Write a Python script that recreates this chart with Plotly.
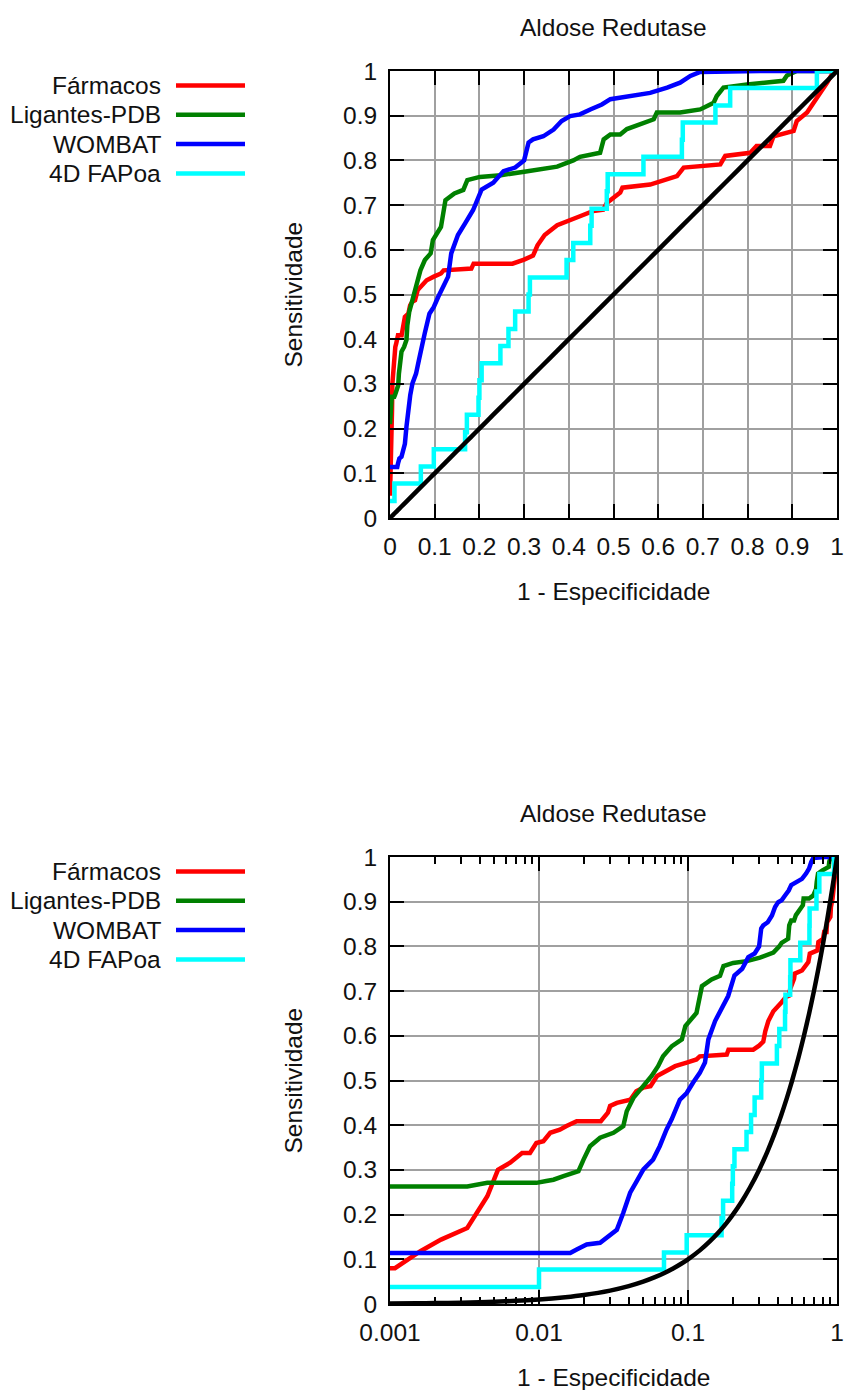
import plotly.graph_objects as go

# ---------------- data ----------------
FARM_X = [0.0, 0.001, 0.00108, 0.0016, 0.0022, 0.0033, 0.0045, 0.0053, 0.0064, 0.0077, 0.0087, 0.0096,
          0.0107, 0.0119, 0.0138, 0.0153, 0.0179, 0.026, 0.029, 0.030, 0.0333, 0.041, 0.045, 0.050,
          0.056, 0.062, 0.072, 0.082, 0.098, 0.114, 0.12, 0.182, 0.187, 0.274, 0.30, 0.32, 0.33,
          0.346, 0.374, 0.41, 0.425, 0.455, 0.477, 0.485, 0.515, 0.52, 0.582, 0.642, 0.657, 0.739,
          0.75, 0.806, 0.82, 0.85, 0.858, 0.903, 0.91, 0.933, 0.948, 0.963, 0.978, 0.993, 1.0]
FARM_Y = [0.05, 0.08, 0.08, 0.118, 0.144, 0.17, 0.241, 0.30, 0.316, 0.338, 0.338, 0.36,
          0.364, 0.383, 0.39, 0.398, 0.409, 0.409, 0.428, 0.443, 0.45, 0.457, 0.476, 0.484,
          0.487, 0.51, 0.521, 0.532, 0.54, 0.547, 0.554, 0.558, 0.569, 0.569, 0.578, 0.587, 0.61,
          0.633, 0.655, 0.668, 0.675, 0.687, 0.69, 0.705, 0.728, 0.739, 0.746, 0.765, 0.784, 0.791,
          0.81, 0.817, 0.832, 0.832, 0.854, 0.866, 0.888, 0.907, 0.929, 0.951, 0.974, 1.0, 1.0]

LIG_X = [0.0, 0.001, 0.0033, 0.0045, 0.0096, 0.0112, 0.0125, 0.0146, 0.0184, 0.0199, 0.022, 0.0257,
         0.0316, 0.0368, 0.0388, 0.043, 0.050, 0.057, 0.063, 0.068, 0.078, 0.091, 0.096, 0.103,
         0.114, 0.124, 0.134, 0.144, 0.164, 0.173, 0.201, 0.248, 0.304, 0.336, 0.374, 0.41, 0.425,
         0.47, 0.478, 0.493, 0.515, 0.53, 0.56, 0.59, 0.597, 0.649, 0.694, 0.724, 0.731, 0.746,
         0.799, 0.88, 0.888, 0.91, 1.0]
LIG_Y = [0.21, 0.263, 0.263, 0.271, 0.271, 0.275, 0.278, 0.286, 0.297, 0.323, 0.353, 0.372,
         0.383, 0.398, 0.431, 0.461, 0.487, 0.51, 0.532, 0.554, 0.577, 0.592, 0.622, 0.633,
         0.651, 0.711, 0.72, 0.726, 0.734, 0.756, 0.763, 0.767, 0.775, 0.78, 0.786, 0.80, 0.808,
         0.817, 0.847, 0.858, 0.858, 0.87, 0.88, 0.892, 0.907, 0.907, 0.914, 0.929, 0.944, 0.963,
         0.97, 0.978, 0.99, 1.0, 1.0]

WOM_X = [0.0, 0.001, 0.0162, 0.0179, 0.0209, 0.0257, 0.0284, 0.0333, 0.0368, 0.0409, 0.0453, 0.0502,
         0.0583, 0.0646, 0.0717, 0.0777, 0.0882, 0.098, 0.108, 0.12, 0.13, 0.137, 0.152, 0.168,
         0.186, 0.205, 0.231, 0.254, 0.28, 0.30, 0.31, 0.32, 0.343, 0.366, 0.384, 0.403, 0.425,
         0.448, 0.474, 0.493, 0.545, 0.582, 0.62, 0.649, 0.672, 0.694, 0.828, 1.0]
WOM_Y = [0.114, 0.114, 0.114, 0.122, 0.133, 0.137, 0.148, 0.166, 0.204, 0.249, 0.275, 0.301,
         0.323, 0.353, 0.39, 0.413, 0.457, 0.472, 0.495, 0.517, 0.54, 0.592, 0.633, 0.659,
         0.689, 0.735, 0.75, 0.776, 0.784, 0.80, 0.84, 0.847, 0.854, 0.869, 0.888, 0.899, 0.903,
         0.914, 0.925, 0.937, 0.944, 0.951, 0.963, 0.974, 0.989, 0.998, 1.0, 1.0]

FAP_X = [0.0, 0.001, 0.01, 0.069, 0.098, 0.168, 0.172, 0.198, 0.2, 0.205, 0.247, 0.265, 0.28, 0.31,
         0.313, 0.395, 0.41, 0.448, 0.451, 0.485, 0.487, 0.567, 0.653, 0.655, 0.728, 0.761, 0.955, 1.0]
FAP_Y = [0.038, 0.038, 0.077, 0.115, 0.154, 0.192, 0.231, 0.269, 0.308, 0.346, 0.385, 0.423, 0.462,
         0.5, 0.538, 0.577, 0.615, 0.654, 0.692, 0.731, 0.769, 0.808, 0.846, 0.885, 0.923, 0.962,
         1.0, 1.0]

DIAG = [0.0, 0.001, 0.0015, 0.002, 0.003, 0.004, 0.005, 0.007, 0.01, 0.015, 0.02, 0.03, 0.04, 0.05,
        0.06, 0.07, 0.08, 0.09, 0.1, 0.12, 0.14, 0.16, 0.18, 0.2, 0.23, 0.26, 0.3, 0.34, 0.38,
        0.42, 0.46, 0.5, 0.55, 0.6, 0.65, 0.7, 0.75, 0.8, 0.85, 0.9, 0.95, 1.0]

SERIES = [("Fármacos", FARM_X, FARM_Y, "#ff0000", "linear"),
          ("Ligantes-PDB", LIG_X, LIG_Y, "#008000", "linear"),
          ("WOMBAT", WOM_X, WOM_Y, "#0000ff", "linear"),
          ("4D FAPoa", FAP_X, FAP_Y, "#00ffff", "hv")]

TITLE = "Aldose Redutase"
XLABEL = "1 - Especificidade"
YLABEL = "Sensitividade"
Y_TICKS = [0, 0.1, 0.2, 0.3, 0.4, 0.5, 0.6, 0.7, 0.8, 0.9, 1]
Y_TICKTEXT = ["0", "0.1", "0.2", "0.3", "0.4", "0.5", "0.6", "0.7", "0.8", "0.9", "1"]
LOG_TICKS = [0.001, 0.01, 0.1, 1]
LOG_TICKTEXT = ["0.001", "0.01", "0.1", "1"]
LOG_MINOR = [0.002, 0.003, 0.004, 0.005, 0.006, 0.007, 0.008, 0.009,
             0.02, 0.03, 0.04, 0.05, 0.06, 0.07, 0.08, 0.09,
             0.2, 0.3, 0.4, 0.5, 0.6, 0.7, 0.8, 0.9]

# ---------------- layout helpers ----------------
W, H = 846, 1390
FONT = "Liberation Sans, Arial, sans-serif"
FS = 24.5
LW = 4.5


def px(x):
    return x / W


def py(y):
    return 1 - y / H


fig = go.Figure()

# top (linear) plot: x 390-837, y 71-518 ; bottom (log) plot: y 857-1304
PANELS = [("x", "y", 71, 518, False), ("x2", "y2", 857, 1304, True)]

for xa, ya, top, bot, is_log in PANELS:
    for name, xs, ys, col, shape in SERIES:
        if is_log:
            pts = [(a, b) for a, b in zip(xs, ys) if a > 0]
            xs_, ys_ = [p[0] for p in pts], [p[1] for p in pts]
        else:
            xs_, ys_ = xs, ys
        fig.add_trace(go.Scatter(x=xs_, y=ys_, mode="lines", name=name, xaxis=xa, yaxis=ya,
                                 line=dict(color=col, width=LW, shape=shape), showlegend=False))
    dx = [d for d in DIAG if d > 0] if is_log else DIAG
    fig.add_trace(go.Scatter(x=dx, y=dx, mode="lines", xaxis=xa, yaxis=ya, showlegend=False,
                             line=dict(color="black", width=LW, shape="spline", smoothing=0.6)))

common_axis = dict(showline=True, linecolor="black", linewidth=2, mirror="ticks",
                   ticks="inside", ticklen=14, tickwidth=1.5, tickcolor="black",
                   showgrid=True, gridcolor="#a0a0a0", gridwidth=1.5, zeroline=False,
                   automargin=False, ticklabelstandoff=6,
                   tickfont=dict(family=FONT, size=FS, color="#111"))

xdom = [px(390), px(837)]
fig.update_layout(
    template="none",
    xaxis=dict(domain=xdom, range=[0, 1], tickvals=Y_TICKS, ticktext=Y_TICKTEXT,
               anchor="y", **common_axis),
    yaxis=dict(domain=[py(518), py(71)], range=[0, 1], tickvals=Y_TICKS, ticktext=Y_TICKTEXT,
               anchor="x", **common_axis),
    xaxis2=dict(domain=xdom, type="log", range=[-3, 0], tickvals=LOG_TICKS, ticktext=LOG_TICKTEXT,
                anchor="y2",
                minor=dict(tickvals=LOG_MINOR, ticks="inside", ticklen=7, tickcolor="black",
                           tickwidth=1.5, showgrid=False),
                **common_axis),
    yaxis2=dict(domain=[py(1304), py(857)], range=[0, 1], tickvals=Y_TICKS, ticktext=Y_TICKTEXT,
                anchor="x2", **common_axis),
    width=W, height=H, margin=dict(l=0, r=0, t=0, b=0, pad=0, autoexpand=False),
    paper_bgcolor="white", plot_bgcolor="white", showlegend=False,
    font=dict(family=FONT, size=FS, color="#111"),
)

annotations = []
shapes = []
for xa, ya, top, bot, is_log in PANELS:
    cx = (390 + 837) / 2
    annotations.append(dict(text=TITLE, x=px(cx), y=py(top - 44), xref="paper", yref="paper",
                            showarrow=False, xanchor="center", yanchor="middle",
                            font=dict(family=FONT, size=FS, color="#111")))
    annotations.append(dict(text=XLABEL, x=px(cx), y=py(bot + 73), xref="paper", yref="paper",
                            showarrow=False, xanchor="center", yanchor="middle",
                            font=dict(family=FONT, size=FS, color="#111")))
    annotations.append(dict(text=YLABEL, x=px(293), y=py((top + bot) / 2), xref="paper", yref="paper",
                            showarrow=False, xanchor="center", yanchor="middle", textangle=-90,
                            font=dict(family=FONT, size=FS, color="#111")))
    for i, (name, xs, ys, col, shape) in enumerate(SERIES):
        ry = top + 14.5 + i * 29.3
        annotations.append(dict(text=name, x=px(163), y=py(ry), xref="paper", yref="paper",
                                showarrow=False, xanchor="right", yanchor="middle",
                                font=dict(family=FONT, size=FS, color="#111")))
        shapes.append(dict(type="line", xref="paper", yref="paper", x0=px(176), x1=px(245),
                           y0=py(ry), y1=py(ry), line=dict(color=col, width=LW)))

fig.update_layout(annotations=annotations, shapes=shapes)
fig.write_html("out.html", config={"displayModeBar": False},
               post_script="document.body.style.margin='0px';document.body.style.overflow='hidden';")
